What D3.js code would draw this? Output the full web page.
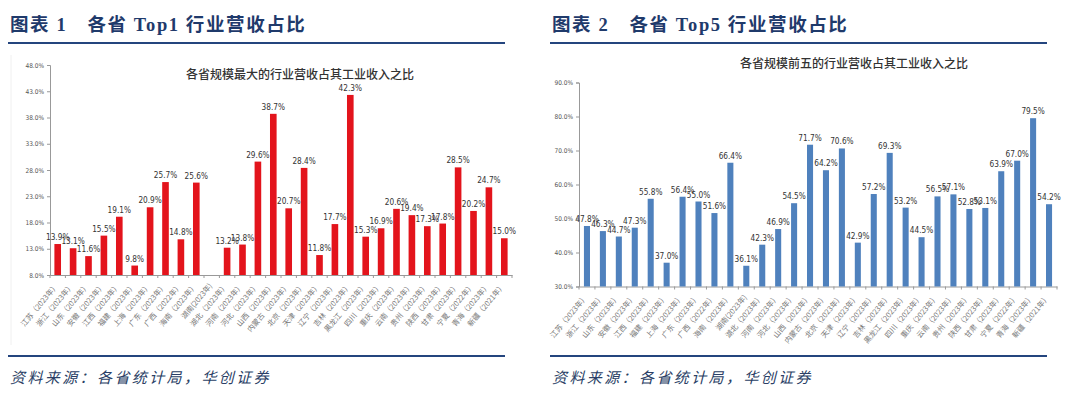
<!DOCTYPE html>
<html><head><meta charset="utf-8">
<script src="https://cdn.jsdelivr.net/npm/d3@7"></script>
<style>
html,body{margin:0;padding:0;background:#fff;}
svg{display:block;}
</style></head>
<body>
<script>
const categories = ["江苏（2023年）","浙江（2023年）","山东（2023年）","安徽（2023年）","江西（2023年）","福建（2023年）","上海（2023年）","广东（2023年）","广西（2022年）","海南（2023年）","湖南(2023年)","湖北（2023年）","河南（2023年）","河北（2023年）","山西（2023年）","内蒙古（2023年）","北京（2023年）","天津（2023年）","辽宁（2023年）","吉林（2023年）","黑龙江（2023年）","四川（2023年）","重庆（2023年）","云南（2023年）","贵州（2023年）","陕西（2023年）","甘肃（2023年）","宁夏（2022年）","青海（2023年）","新疆（2021年）"];
const top1Values = [13.9,13.1,11.6,15.5,19.1,9.8,20.9,25.7,14.8,25.6,null,13.2,13.8,29.6,38.7,20.7,28.4,11.8,17.7,42.3,15.3,16.9,20.6,19.4,17.3,17.8,28.5,20.2,24.7,15.0];
const top5Values = [47.8,46.3,44.7,47.3,55.8,37.0,56.4,55.0,51.6,66.4,36.1,42.3,46.9,54.5,71.7,64.2,70.6,42.9,57.2,69.3,53.2,44.5,56.5,57.1,52.8,53.1,63.9,67.0,79.5,54.2];
const top1Ticks = [8,13,18,23,28,33,38,43,48];
const top5Ticks = [30,40,50,60,70,80,90];
const headers = ["图表 1　各省 Top1 行业营收占比","图表 2　各省 Top5 行业营收占比"];
const chartTitles = ["各省规模最大的行业营收占其工业收入之比","各省规模前五的行业营收占其工业收入之比"];
const sourceText = "资料来源：各省统计局，华创证券";

const W = 1080, H = 394;
const svg = d3.select("body").append("svg").attr("width", W).attr("height", H);
const navy = "#1f3a6b";
const narrow = "'Liberation Sans Narrow','DejaVu Sans Condensed',Arial,sans-serif";
const cjk = "'Liberation Serif','Noto Sans CJK SC',serif";

function panel(cfg){
  const g = svg.append("g");
  g.append("text").attr("x", cfg.x0 + 2).attr("y", 31)
    .attr("font-family", cjk).attr("font-weight", "bold").attr("font-size", 18.5)
    .attr("fill", navy).attr("letter-spacing", 1.6).text(cfg.header);
  g.append("line").attr("x1", cfg.x0).attr("x2", cfg.x0 + 497).attr("y1", 43).attr("y2", 43)
    .attr("stroke", "#24457e").attr("stroke-width", 2);
  g.append("line").attr("x1", cfg.x0).attr("x2", cfg.x0 + 497).attr("y1", 356).attr("y2", 356)
    .attr("stroke", "#24457e").attr("stroke-width", 2);
  g.append("text").attr("x", cfg.x0 + 2).attr("y", 383)
    .attr("font-family", "'Noto Sans CJK SC',sans-serif").attr("font-style", "italic")
    .attr("font-size", 15).attr("fill", "#2b3f66").attr("letter-spacing", 2.4)
    .text(sourceText);

  const x = d3.scaleBand().domain(cfg.cats).range([cfg.left, cfg.right]).paddingInner(cfg.pad).paddingOuter(cfg.pad/2);
  const y = d3.scaleLinear().domain([cfg.ticks[0], cfg.ticks[cfg.ticks.length-1]]).range([cfg.bottom, cfg.top]);

  g.append("text").attr("x", cfg.titleX).attr("y", cfg.titleY).attr("text-anchor", "middle")
    .attr("font-family", "'Noto Sans CJK SC',sans-serif").attr("font-weight", 500)
    .attr("font-size", 12).attr("fill", "#333").text(cfg.title);

  const ya = g.append("g").attr("transform", `translate(${cfg.left},0)`)
    .call(d3.axisLeft(y).tickValues(cfg.ticks).tickSize(3).tickPadding(3).tickFormat(d => d.toFixed(1) + "%"));
  ya.select(".domain").attr("stroke", "#999");
  ya.selectAll(".tick line").attr("stroke", "#999");
  ya.selectAll("text").attr("font-family", narrow).attr("font-size", 6.5).attr("fill", "#555");

  const xa = g.append("g").attr("transform", `translate(0,${cfg.bottom})`)
    .call(d3.axisBottom(x).tickSize(0).tickPadding(0));
  xa.select(".domain").attr("stroke", "#999");
  xa.selectAll(".tick text")
    .attr("font-family", "'Noto Sans CJK SC',sans-serif").attr("font-size", 7.4).attr("fill", "#777")
    .attr("text-anchor", "end").attr("dy", 0)
    .attr("transform", "translate(1,11) rotate(-50)");
  g.append("g").selectAll("line").data(cfg.cats.concat(["__end"])).join("line")
    .attr("x1", (d,i) => i < cfg.cats.length ? x(d) - x.step()*cfg.pad/2 : cfg.right)
    .attr("x2", (d,i) => i < cfg.cats.length ? x(d) - x.step()*cfg.pad/2 : cfg.right)
    .attr("y1", cfg.bottom).attr("y2", cfg.bottom + 3).attr("stroke", "#999");

  const data = cfg.cats.map((c,i) => ({c, v: cfg.values[i]})).filter(d => d.v != null);
  g.append("g").selectAll("rect").data(data).join("rect")
    .attr("x", d => x(d.c)).attr("width", x.bandwidth())
    .attr("y", d => y(d.v)).attr("height", d => cfg.bottom - y(d.v))
    .attr("fill", cfg.color);
  g.append("g").selectAll("text").data(data).join("text")
    .attr("x", d => x(d.c) + x.bandwidth()/2).attr("y", d => y(d.v) - 4)
    .attr("text-anchor", "middle").attr("font-family", narrow).attr("font-size", 8.2)
    .attr("fill", "#333").text(d => d.v.toFixed(1) + "%");
}

svg.append("line").attr("x1", 11).attr("x2", 11).attr("y1", 55).attr("y2", 345).attr("stroke", "#f0f0f0");

panel({x0: 8, header: headers[0], title: chartTitles[0], titleX: 300, titleY: 79,
  cats: categories, values: top1Values, ticks: top1Ticks,
  left: 50, right: 512, top: 65, bottom: 275, pad: 0.57, color: "#e3141c"});
panel({x0: 550, header: headers[1], title: chartTitles[1], titleX: 854, titleY: 68,
  cats: categories, values: top5Values, ticks: top5Ticks,
  left: 579, right: 1057, top: 82.5, bottom: 286.5, pad: 0.62, color: "#4f81bd"});
</script>
</body></html>
